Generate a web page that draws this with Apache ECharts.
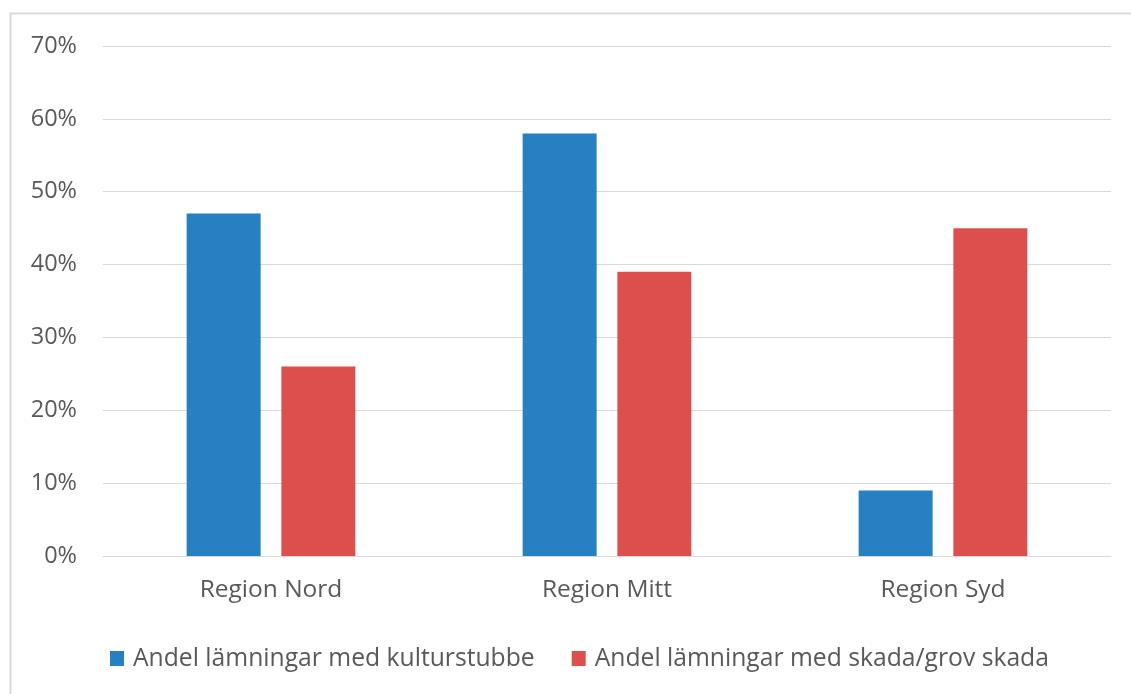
<!DOCTYPE html>
<html>
<head>
<meta charset="utf-8">
<script src="https://cdn.jsdelivr.net/npm/echarts@6/dist/echarts.min.js"></script>
<style>
html,body{margin:0;padding:0;background:#fff;}
#chart{width:1131px;height:694px;}
</style>
</head>
<body>
<div id="chart"></div>
<script>
const categories = ['Region Nord', 'Region Mitt', 'Region Syd'];
const seriesNames = ['Andel lämningar med kulturstubbe', 'Andel lämningar med skada/grov skada'];
const kulturstubbe = [47, 58, 9];
const skada = [26, 39, 45];
const yTicks = { min: 0, max: 70, interval: 10 };

const FONT = 'Open Sans';
const chart = echarts.init(document.getElementById('chart'));
chart.setOption({
  animation: false,
  backgroundColor: '#fff',
  textStyle: { fontFamily: FONT },
  graphic: [{
    type: 'rect',
    left: 8, top: 11,
    shape: { width: 1300, height: 800 },
    style: { fill: 'none', stroke: '#d9d9d9', lineWidth: 2 },
    silent: true
  }],
  grid: { left: 103, right: 20, top: 46, bottom: 138, containLabel: false },
  legend: {
    top: 641, left: 105,
    padding: 5,
    itemWidth: 14, itemHeight: 15, itemGap: 37,
    icon: 'rect',
    textStyle: { color: '#595959', fontSize: 24.7, fontFamily: FONT, padding: [0, 0, 0, 4] },
    data: seriesNames
  },
  xAxis: {
    type: 'category',
    data: categories,
    axisTick: { show: false },
    axisLine: { lineStyle: { color: '#d9d9d9', width: 1 } },
    axisLabel: { color: '#595959', fontSize: 24.5, margin: 22, fontFamily: FONT }
  },
  yAxis: {
    type: 'value',
    min: yTicks.min, max: yTicks.max, interval: yTicks.interval,
    axisLine: { show: false },
    axisTick: { show: false },
    splitLine: { lineStyle: { color: '#d9d9d9', width: 1 } },
    axisLabel: { color: '#595959', fontSize: 23.5, margin: 26, formatter: '{value}%', fontFamily: FONT }
  },
  series: [
    { name: seriesNames[0], type: 'bar', data: kulturstubbe, barWidth: 74, barGap: '28%',
      itemStyle: { color: '#2780c2' } },
    { name: seriesNames[1], type: 'bar', data: skada, barWidth: 74, barGap: '28%',
      itemStyle: { color: '#dd4f4d' } }
  ]
});
</script>
</body>
</html>
